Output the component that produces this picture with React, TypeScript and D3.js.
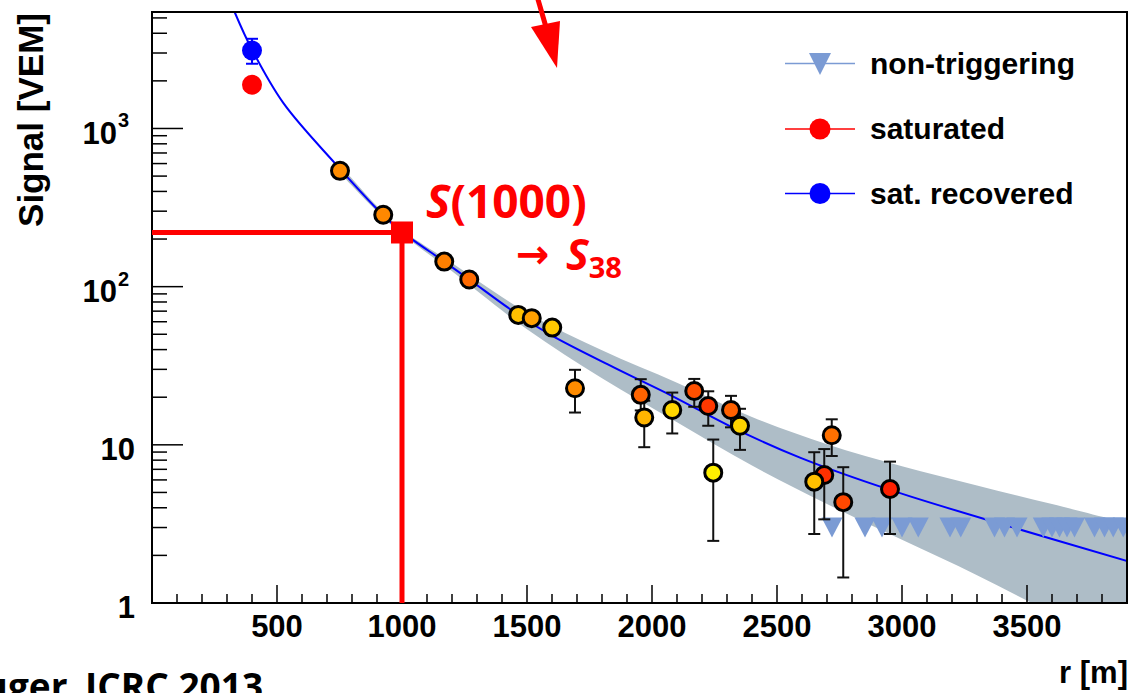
import React from "react";
import * as d3 from "d3";

// ---------- data ----------
const stationR = [752, 925, 1169, 1269, 1465, 1519, 1601, 1692, 1955, 1969, 2081, 2169, 2225, 2245, 2316, 2352, 2689, 2649, 2719, 2765, 2952];
const stationS = [540, 285, 144, 111, 66.3, 63.2, 55.1, 22.8, 20.7, 14.9, 16.6, 21.9, 17.6, 6.67, 16.6, 13.2, 6.45, 5.85, 11.5, 4.34, 5.26];
const stationErrLow = [515, 272, 138, 106, 63, 60, 52.5, 16.0, 16.5, 9.66, 11.8, 17.4, 13.2, 2.47, 12.9, 9.29, 3.38, 2.73, 8.5, 1.45, 2.73];
const stationErrHigh = [565, 298, 150, 116, 69.5, 66.4, 57.8, 29.8, 26.0, 19.0, 21.4, 26.1, 21.8, 10.8, 20.4, 16.9, 9.4, 8.98, 14.5, 7.22, 7.83];
const stationColor = ["#ff8c00", "#ff8800", "#ff8000", "#ff6a00", "#ffc000", "#ffa000", "#ffc800", "#ff8c00", "#ff6400", "#ffb400", "#ffd700", "#ff5000", "#ff3800", "#fff000", "#ff6000", "#ffd400", "#ff3000", "#ffbf00", "#ff7000", "#ff4800", "#ff2000"];

const saturatedR = [400];
const saturatedS = [1889];
const recoveredR = [400];
const recoveredS = [3113];
const recoveredErrLow = [2566];
const recoveredErrHigh = [3690];

const nonTrigR = [2720, 2852, 2920, 3000, 3065, 3192, 3235, 3370, 3410, 3460, 3565, 3600, 3630, 3660, 3690, 3770, 3810, 3845, 3885];
const nonTrigS = 3;

const fitR = [330, 400, 525, 733, 919, 1000, 1169, 1269, 1465, 1605, 1845, 2085, 2325, 2592, 2952, 3432, 3912];
const fitS = [5470, 3150, 1450, 600, 289, 222, 144, 111, 66.4, 48.5, 31, 20.2, 12.8, 8.3, 5.19, 3.04, 1.82];

const bandR = [750, 900, 1000, 1200, 1500, 1800, 2100, 2400, 2700, 3000, 3300, 3600, 3900];
const bandLow = [527, 299, 215, 125, 53.8, 26.4, 13.9, 7.39, 4.22, 2.51, 1.5, 0.86, 0.5];
const bandHigh = [595, 323, 229, 141, 68.4, 39.6, 24.7, 15.0, 10.1, 7.33, 5.54, 4.22, 3.2];

const s1000R = 1000;
const s1000S = 220;

const xTickLabels = [500, 1000, 1500, 2000, 2500, 3000, 3500];
const yTickLabels = [
  { v: 1, base: "1", exp: "" },
  { v: 10, base: "10", exp: "" },
  { v: 100, base: "10", exp: "2" },
  { v: 1000, base: "10", exp: "3" },
];

const legendItems = [
  { label: "non-triggering", kind: "tri", color: "#7b9bd4" },
  { label: "saturated", kind: "circ", color: "#ff0000" },
  { label: "sat. recovered", kind: "circ", color: "#0000ff" },
];

// ---------- layout ----------
const W = 1130;
const H = 693;
const L = 152, R = 1127, T = 12, B = 603;

const x = d3.scaleLinear().domain([0, 3900]).range([L, R]);
const y = d3.scaleLog().domain([1, 5450]).range([B, T]);

const AXFONT = "'Liberation Sans', Arial, Helvetica, sans-serif";
const ANFONT = "'Open Sans', 'Noto Sans', sans-serif";

function triPath(cx: number, cy: number, w = 21, h = 20) {
  return `M${cx - w / 2},${cy - h / 2}L${cx + w / 2},${cy - h / 2}L${cx},${cy + h / 2}Z`;
}

export default function App() {
  const fitPts = fitR.map((r, i) => [r, fitS[i]] as [number, number]);
  const line = d3
    .line<[number, number]>()
    .x((d) => x(d[0]))
    .y((d) => y(d[1]))
    .curve(d3.curveCatmullRom.alpha(0.5));
  const bandPts = bandR.map((r, i) => ({ r, lo: bandLow[i], hi: bandHigh[i] }));
  const area = d3
    .area<{ r: number; lo: number; hi: number }>()
    .x((d) => x(d.r))
    .y0((d) => y(d.lo))
    .y1((d) => y(d.hi))
    .curve(d3.curveCatmullRom.alpha(0.5));

  const xMinor: number[] = d3.range(100, 3900, 100);
  const yMinor: number[] = [];
  [1, 10, 100, 1000].forEach((dec) => {
    for (let m = 2; m <= 9; m++) if (dec * m <= 5450) yMinor.push(dec * m);
  });

  const sx = x(s1000R);
  const sy = y(s1000S);

  return (
    <svg width={W} height={H} style={{ position: "absolute", left: 0, top: 0, background: "#fff" }}>
      <defs>
        <clipPath id="plot">
          <rect x={L} y={T} width={R - L} height={B - T} />
        </clipPath>
      </defs>
      <rect x={0} y={0} width={W} height={H} fill="#fff" />

      <g clipPath="url(#plot)">
        <path d={area(bandPts) || ""} fill="#aebdc7" />
        <path d={line(fitPts) || ""} fill="none" stroke="#0000ff" strokeWidth={2} />
        {nonTrigR.map((r, i) => (
          <path key={"nt" + i} d={triPath(x(r), y(nonTrigS))} fill="#7b9bd4" />
        ))}
      </g>

      {/* frame */}
      <rect x={L} y={T} width={R - L} height={B - T} fill="none" stroke="#000" strokeWidth={2} />

      {/* x ticks */}
      {xMinor.map((v) => (
        <line key={"xt" + v} x1={x(v)} x2={x(v)} y1={B} y2={B - (v % 500 === 0 ? 18 : 9)} stroke="#000" strokeWidth={1.5} />
      ))}
      {/* y ticks */}
      {yMinor.map((v) => (
        <line key={"ym" + v} x1={L} x2={L + 15} y1={y(v)} y2={y(v)} stroke="#000" strokeWidth={1.5} />
      ))}
      {[10, 100, 1000].map((v) => (
        <line key={"yM" + v} x1={L} x2={L + 31} y1={y(v)} y2={y(v)} stroke="#000" strokeWidth={1.5} />
      ))}

      {/* x tick labels */}
      {xTickLabels.map((v) => (
        <text key={"xl" + v} x={x(v)} y={637} textAnchor="middle" fontFamily={AXFONT} fontWeight="bold" fontSize={31}>
          {v}
        </text>
      ))}
      {/* y tick labels */}
      {yTickLabels.map((t) =>
        t.exp ? (
          <g key={"yl" + t.v}>
            <text x={117} y={y(t.v) + 15.5} textAnchor="end" fontFamily={AXFONT} fontWeight="bold" fontSize={31}>
              {t.base}
            </text>
            <text x={118} y={y(t.v) - 1} textAnchor="start" fontFamily={AXFONT} fontWeight="bold" fontSize={20}>
              {t.exp}
            </text>
          </g>
        ) : (
          <text key={"yl" + t.v} x={135} y={y(t.v) + 15} textAnchor="end" fontFamily={AXFONT} fontWeight="bold" fontSize={31}>
            {t.base}
          </text>
        )
      )}

      {/* axis titles */}
      <text transform="translate(43,120) rotate(-90)" textAnchor="middle" fontFamily={AXFONT} fontWeight="bold" fontSize={35}>
        Signal [VEM]
      </text>
      <text x={1128} y={683} textAnchor="end" fontFamily={AXFONT} fontWeight="bold" fontSize={31}>
        r [m]
      </text>

      {/* saturated & recovered */}
      {saturatedR.map((r, i) => (
        <circle key={"sat" + i} cx={x(r)} cy={y(saturatedS[i])} r={10} fill="#ff0000" />
      ))}
      {recoveredR.map((r, i) => {
        const cx = x(r);
        return (
          <g key={"rec" + i} stroke="#0000ff" strokeWidth={2}>
            <line x1={cx} x2={cx} y1={y(recoveredErrLow[i])} y2={y(recoveredErrHigh[i])} />
            <line x1={cx - 6} x2={cx + 6} y1={y(recoveredErrLow[i])} y2={y(recoveredErrLow[i])} />
            <line x1={cx - 6} x2={cx + 6} y1={y(recoveredErrHigh[i])} y2={y(recoveredErrHigh[i])} />
            <circle cx={cx} cy={y(recoveredS[i])} r={10} fill="#0000ff" stroke="none" />
          </g>
        );
      })}

      {/* station error bars */}
      {stationR.map((r, i) => {
        const cx = x(r);
        const y0 = y(stationErrLow[i]);
        const y1 = y(stationErrHigh[i]);
        return (
          <g key={"eb" + i} stroke="#111" strokeWidth={2}>
            <line x1={cx} x2={cx} y1={y0} y2={y1} />
            <line x1={cx - 6} x2={cx + 6} y1={y0} y2={y0} />
            <line x1={cx - 6} x2={cx + 6} y1={y1} y2={y1} />
          </g>
        );
      })}
      {/* station markers */}
      {stationR.map((r, i) => (
        <circle key={"st" + i} cx={x(r)} cy={y(stationS[i])} r={8.5} fill={stationColor[i]} stroke="#000" strokeWidth={3} />
      ))}

      {/* S(1000) annotation */}
      <line x1={L} x2={sx} y1={sy} y2={sy} stroke="#ff0000" strokeWidth={5} />
      <line x1={sx} x2={sx} y1={sy} y2={B} stroke="#ff0000" strokeWidth={5} />
      <rect x={sx - 11} y={sy - 11} width={22} height={22} fill="#ff0000" />
      <text x={426} y={218} fontFamily={ANFONT} fontWeight="bold" fontSize={46} fill="#ff0000">
        <tspan fontStyle="italic">S</tspan>
        <tspan>(1000)</tspan>
      </text>
      <text x={516} y={268} fontFamily="'DejaVu Sans', 'Noto Sans', sans-serif" fontWeight="bold" fontSize={40} fill="#ff0000">
        →
      </text>
      <text x={566} y={270} fontFamily={ANFONT} fontWeight="bold" fontSize={43} fill="#ff0000">
        <tspan fontStyle="italic">S</tspan>
        <tspan fontSize={29} dy={8}>38</tspan>
      </text>

      {/* red arrow at top */}
      <line x1={537} y1={-4} x2={548} y2={34} stroke="#ff0000" strokeWidth={5} />
      <path d="M531,27L560,21L557,68Z" fill="#ff0000" />

      {/* legend */}
      {legendItems.map((it, i) => {
        const ly = [63.5, 129, 193.5][i];
        return (
          <g key={"lg" + i}>
            <line x1={785} x2={855} y1={ly} y2={ly} stroke={it.color} strokeWidth={1.5} />
            {it.kind === "tri" ? (
              <path d={triPath(820, ly + 0.5, 22, 22)} fill={it.color} />
            ) : (
              <circle cx={820} cy={ly} r={10.5} fill={it.color} />
            )}
            <text x={870} y={ly + 10} fontFamily={AXFONT} fontWeight="bold" fontSize={30}>
              {it.label}
            </text>
          </g>
        );
      })}

      {/* credit */}
      <text x={78} y={700} textAnchor="end" fontFamily={ANFONT} fontWeight="bold" fontSize={37}>
        Auger,
      </text>
      <text x={85} y={700} textAnchor="start" fontFamily={ANFONT} fontWeight="bold" fontSize={37}>
        ICRC 2013
      </text>
    </svg>
  );
}
